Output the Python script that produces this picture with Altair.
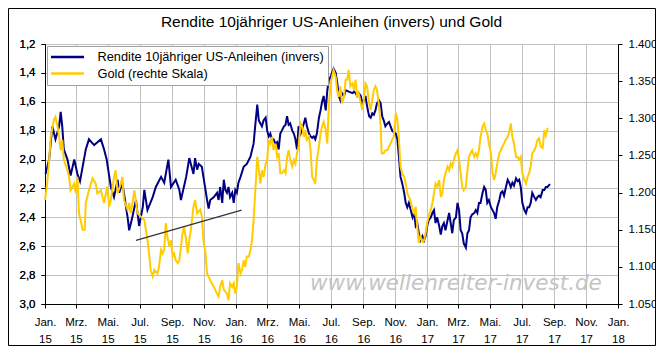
import altair as alt
import pandas as pd

START = pd.Timestamp("2015-01-01")
S_YIELD = "Rendite 10jähriger US-Anleihen (invers)"
S_GOLD = "Gold (rechte Skala)"
TITLE = "Rendite 10jähriger US-Anleihen (invers) und Gold"
WATERMARK = "www.wellenreiter-invest.de"

# days since 2015-01-01 / 10y yield (%)
yield_days = [1, 8, 14, 20, 27, 30, 33, 36, 43, 49, 56, 62, 67, 78, 84, 94, 107, 113, 118, 123,
              126, 132, 139, 142, 148, 155, 158, 161, 167, 174, 180, 187, 190, 196, 206, 212, 222, 228, 236, 241,
              250, 257, 260, 270, 276, 284, 287, 291, 294, 300, 303, 307, 310, 313, 316, 323, 329, 332, 335, 339,
              342, 345, 348, 351, 354, 358, 361, 364, 367, 370, 374, 380, 386, 393, 399, 402, 406, 409, 412, 415,
              418, 422, 425, 428, 431, 434, 437, 441, 444, 447, 450, 453, 457, 460, 463, 466, 469, 473, 476, 479,
              482, 485, 489, 495, 498, 501, 505, 508, 511, 514, 517, 520, 524, 527, 530, 533, 537, 540, 543, 546,
              549, 552, 556, 559, 562, 565, 568, 572, 575, 581, 588, 591, 594, 597, 600, 604, 607, 610, 613, 616,
              620, 623, 626, 629, 632, 635, 639, 642, 645, 648, 651, 655, 658, 661, 664, 667, 671, 674, 677, 680,
              683, 687, 690, 693, 696, 699, 703, 706, 709, 712, 715, 718, 722, 725, 728, 731, 734, 738, 741, 744,
              747, 750, 754, 757, 760, 763, 766, 770, 773, 776, 779, 782, 786, 789, 792, 795, 798, 801, 805, 808,
              811, 814, 817, 821, 824, 827, 830, 833, 837, 840, 843, 846, 849, 853, 856, 859, 862, 865, 869, 872,
              875, 878, 881, 885, 888, 891, 894, 897, 901, 904, 907, 910, 913, 917, 920, 923, 926, 929, 932, 936,
              939, 942, 945, 948, 952, 955, 958, 961, 966]
yield_vals = [2.10, 2.00, 1.77, 1.86, 1.77, 1.67, 1.77, 1.93, 2.00, 2.11, 2.00, 2.10, 2.15, 1.93, 1.86, 1.90, 1.86, 1.93, 2.00, 2.12,
              2.19, 2.26, 2.14, 2.23, 2.16, 2.33, 2.40, 2.49, 2.40, 2.28, 2.46, 2.33, 2.21, 2.35, 2.26, 2.19, 2.12, 2.16, 2.00, 2.19,
              2.14, 2.21, 2.28, 2.12, 1.99, 2.10, 1.99, 2.07, 2.03, 2.05, 2.12, 2.21, 2.28, 2.34, 2.28, 2.26, 2.23, 2.28, 2.19, 2.30,
              2.14, 2.21, 2.23, 2.19, 2.26, 2.23, 2.30, 2.21, 2.23, 2.16, 2.12, 2.05, 2.03, 1.98, 1.89, 1.77, 1.62, 1.73, 1.75, 1.77,
              1.73, 1.71, 1.80, 1.84, 1.82, 1.86, 1.86, 1.89, 1.88, 1.93, 1.82, 1.80, 1.77, 1.76, 1.70, 1.76, 1.75, 1.80, 1.82, 1.86,
              1.93, 1.77, 1.82, 1.75, 1.71, 1.77, 1.82, 1.84, 1.85, 1.84, 1.86, 1.82, 1.71, 1.66, 1.60, 1.56, 1.66, 1.52, 1.45, 1.43,
              1.40, 1.37, 1.40, 1.47, 1.56, 1.59, 1.54, 1.56, 1.52, 1.53, 1.54, 1.53, 1.54, 1.56, 1.54, 1.56, 1.61, 1.59, 1.56, 1.63,
              1.70, 1.71, 1.68, 1.69, 1.66, 1.61, 1.59, 1.61, 1.70, 1.73, 1.77, 1.75, 1.74, 1.77, 1.80, 1.81, 1.82, 1.86, 1.98, 2.12,
              2.16, 2.23, 2.30, 2.33, 2.30, 2.34, 2.40, 2.37, 2.46, 2.44, 2.51, 2.56, 2.53, 2.56, 2.53, 2.46, 2.42, 2.40, 2.37, 2.35,
              2.44, 2.40, 2.46, 2.52, 2.46, 2.44, 2.49, 2.42, 2.37, 2.44, 2.51, 2.42, 2.40, 2.30, 2.35, 2.49, 2.51, 2.58, 2.61, 2.51,
              2.49, 2.40, 2.38, 2.37, 2.35, 2.37, 2.30, 2.30, 2.23, 2.19, 2.21, 2.30, 2.28, 2.33, 2.35, 2.37, 2.41, 2.33, 2.28, 2.23,
              2.22, 2.25, 2.20, 2.14, 2.16, 2.19, 2.16, 2.18, 2.13, 2.15, 2.14, 2.19, 2.30, 2.35, 2.37, 2.33, 2.33, 2.30, 2.23, 2.26,
              2.28, 2.26, 2.25, 2.26, 2.21, 2.21, 2.19, 2.19, 2.17]

# days since 2015-01-01 / gold price (USD)
gold_days = [0, 4, 8, 11, 17, 20, 24, 27, 30, 33, 36, 43, 46, 49, 56, 59, 62, 65, 68, 72,
             76, 78, 84, 91, 97, 100, 107, 113, 119, 123, 126, 132, 135, 139, 145, 148, 151, 158, 161, 164,
             171, 177, 183, 190, 193, 196, 199, 202, 206, 209, 215, 218, 222, 225, 228, 231, 234, 238, 241, 244,
             247, 250, 254, 257, 260, 263, 266, 270, 273, 276, 279, 284, 287, 291, 297, 300, 303, 307, 310, 316,
             323, 329, 332, 335, 339, 342, 348, 351, 354, 358, 361, 364, 367, 370, 374, 377, 380, 383, 386, 390,
             393, 396, 399, 402, 406, 409, 412, 415, 418, 422, 425, 428, 431, 434, 437, 441, 444, 447, 450, 453,
             457, 460, 463, 466, 469, 473, 476, 479, 482, 485, 489, 492, 495, 498, 501, 505, 508, 511, 514, 517,
             520, 524, 527, 530, 533, 537, 540, 543, 546, 549, 552, 556, 559, 562, 565, 568, 572, 575, 578, 581,
             584, 588, 591, 594, 597, 600, 604, 607, 610, 613, 616, 620, 623, 626, 629, 632, 635, 639, 642, 644,
             648, 651, 655, 658, 661, 664, 667, 671, 674, 677, 680, 683, 687, 690, 693, 696, 699, 703, 706, 709,
             712, 715, 718, 722, 725, 728, 731, 734, 738, 741, 744, 747, 750, 754, 757, 760, 763, 766, 770, 773,
             776, 779, 782, 786, 789, 792, 795, 798, 801, 805, 808, 811, 814, 817, 821, 824, 827, 830, 833, 837,
             840, 843, 846, 849, 853, 856, 859, 862, 865, 869, 872, 875, 878, 881, 885, 888, 891, 894, 897, 901,
             904, 907, 910, 913, 917, 920, 923, 926, 929, 932, 936, 939, 942, 945, 948, 952, 955, 958, 961, 963]
gold_vals = [1190, 1212, 1244, 1275, 1298, 1302, 1289, 1275, 1257, 1271, 1244, 1230, 1221, 1203, 1212, 1199, 1221, 1172, 1163, 1150,
             1150, 1186, 1203, 1219, 1212, 1199, 1203, 1186, 1208, 1181, 1190, 1221, 1230, 1199, 1212, 1221, 1190, 1177, 1186, 1172,
             1203, 1172, 1168, 1163, 1150, 1136, 1118, 1096, 1087, 1096, 1091, 1100, 1123, 1118, 1123, 1159, 1141, 1127, 1136, 1114,
             1118, 1109, 1105, 1109, 1127, 1145, 1154, 1136, 1118, 1136, 1150, 1181, 1190, 1172, 1177, 1168, 1136, 1118, 1091, 1082,
             1073, 1064, 1060, 1073, 1082, 1069, 1064, 1055, 1078, 1073, 1078, 1064, 1073, 1105, 1091, 1096, 1109, 1100, 1114, 1114,
             1123, 1136, 1163, 1199, 1248, 1230, 1212, 1230, 1221, 1239, 1244, 1271, 1266, 1275, 1257, 1266, 1248, 1253, 1226, 1226,
             1230, 1226, 1248, 1257, 1244, 1235, 1244, 1239, 1253, 1262, 1293, 1289, 1275, 1284, 1271, 1275, 1257, 1221, 1217, 1212,
             1244, 1262, 1280, 1289, 1295, 1284, 1266, 1320, 1343, 1356, 1365, 1356, 1336, 1329, 1343, 1320, 1329, 1352, 1352, 1365,
             1343, 1347, 1338, 1352, 1329, 1334, 1320, 1311, 1325, 1347, 1343, 1320, 1311, 1325, 1338, 1343, 1338, 1316, 1289, 1253,
             1253, 1257, 1257, 1262, 1266, 1271, 1275, 1307, 1298, 1271, 1235, 1226, 1221, 1212, 1199, 1194, 1190, 1177, 1172, 1181,
             1154, 1132, 1141, 1134, 1136, 1145, 1159, 1168, 1177, 1186, 1199, 1212, 1208, 1217, 1194, 1199, 1217, 1226, 1235, 1230,
             1239, 1235, 1244, 1253, 1257, 1244, 1226, 1208, 1203, 1208, 1230, 1248, 1253, 1257, 1248, 1253, 1248, 1257, 1275, 1289,
             1293, 1284, 1280, 1266, 1253, 1226, 1217, 1226, 1239, 1253, 1257, 1262, 1266, 1271, 1275, 1282, 1293, 1275, 1266, 1248,
             1248, 1244, 1248, 1226, 1217, 1212, 1221, 1226, 1235, 1253, 1257, 1262, 1271, 1273, 1262, 1260, 1284, 1277, 1286, 1286]

# hand-drawn trend line (left scale)
trend_days = [174, 376]
trend_vals = [2.56, 2.35]

# watermark anchor (left scale)
watermark_days = [786]
watermark_vals = [2.86]

left_ticks = [1.2, 1.4, 1.6, 1.8, 2.0, 2.2, 2.4, 2.6, 2.8, 3.0]
right_ticks = [1050, 1100, 1150, 1200, 1250, 1300, 1350, 1400]
month_ticks = [alt.DateTime(year=2015 + i // 12, month=i % 12 + 1, date=1) for i in range(0, 37, 2)]


def frame(days, vals, series=None):
    df = pd.DataFrame({"date": START + pd.to_timedelta(days, unit="D"), "value": vals})
    if series is not None:
        df["series"] = series
    return df


yield_df = frame(yield_days, yield_vals, S_YIELD)
gold_df = frame(gold_days, gold_vals, S_GOLD)
trend_df = frame(trend_days, trend_vals)
wm_df = frame(watermark_days, watermark_vals)
wm_df["text"] = WATERMARK

FONT = "Liberation Sans"
LABEL_SIZE = 11.5

x_enc = alt.X(
    "date:T",
    scale=alt.Scale(domain=[alt.DateTime(year=2015, month=1, date=1),
                            alt.DateTime(year=2018, month=1, date=1)]),
    axis=alt.Axis(
        title=None, values=month_ticks, grid=True, gridColor="#c0c0c0", gridWidth=1,
        labelExpr="[['Jan.','Feb.','Mrz.','Apr.','Mai.','Jun.','Jul.','Aug.','Sep.','Okt.','Nov.','Dez.'][month(datum.value)], timeFormat(datum.value, '%y')]",
        labelOverlap=False, labelBound=False, labelFlush=False,
        labelFontSize=LABEL_SIZE, labelFont=FONT, labelColor="black", labelLineHeight=17,
        labelPadding=8, tickSize=4, tickColor="black", domainColor="black",
    ),
)

y_left = alt.Y(
    "value:Q",
    scale=alt.Scale(domain=[1.2, 3.0], reverse=True, nice=False, zero=False),
    axis=alt.Axis(
        title=None, orient="left", values=left_ticks, grid=True, gridColor="#c0c0c0", gridWidth=1,
        labelExpr="replace(format(datum.value, '.1f'), '.', ',')",
        labelFontSize=LABEL_SIZE, labelFont=FONT, labelColor="black", labelPadding=6,
        tickSize=4, tickColor="black", domainColor="black",
    ),
)

y_right = alt.Y(
    "value:Q",
    scale=alt.Scale(domain=[1050, 1400], nice=False, zero=False),
    axis=alt.Axis(
        title=None, orient="right", values=right_ticks, grid=False,
        labelExpr="replace(format(datum.value, ',.0f'), ',', '.')",
        labelFontSize=LABEL_SIZE, labelFont=FONT, labelColor="black", labelPadding=6,
        tickSize=4, tickColor="black", domainColor="black",
    ),
)

color_enc = alt.Color(
    "series:N",
    scale=alt.Scale(domain=[S_YIELD, S_GOLD], range=["#000080", "#FFCC00"]),
    legend=alt.Legend(
        title=None, orient="none", legendX=2, legendY=2, direction="vertical",
        symbolType="M-3,0H3", symbolSize=121, symbolStrokeWidth=2.5, symbolOffset=9.5,
        labelFontSize=12.8, labelFont=FONT, labelColor="black", labelLimit=400, labelOffset=23,
        fillColor="white", strokeColor="#a0a0a0", padding=4, rowPadding=2.5,
    ),
)

border = alt.Chart(pd.DataFrame({"k": [0]})).mark_rect(
    fill="transparent", stroke="black", strokeWidth=1
).encode(x=alt.value(-36.5), x2=alt.value(610.5), y=alt.value(-35.5), y2=alt.value(301.5))

watermark = alt.Chart(wm_df).mark_text(
    font="DejaVu Sans", fontStyle="italic", fontSize=21.5, color="#c4c4c4",
    align="center", baseline="middle",
).encode(x=x_enc, y=y_left, text="text:N")

yield_line = alt.Chart(yield_df).mark_line(strokeWidth=2).encode(x=x_enc, y=y_left, color=color_enc)

trend_line = alt.Chart(trend_df).mark_line(strokeWidth=1.2, color="#333333").encode(x=x_enc, y=y_left)

gold_line = alt.Chart(gold_df).mark_line(strokeWidth=2).encode(x=x_enc, y=y_right, color=color_enc)

left_layer = alt.layer(watermark, yield_line)

chart = (
    alt.layer(left_layer, gold_line, trend_line, border)
    .resolve_scale(y="independent")
    .properties(
        width=573,
        height=260,
        padding={"left": 37, "top": 36, "right": 38, "bottom": 42},
        autosize=alt.AutoSizeParams(type="none"),
        title=alt.TitleParams(
            TITLE, fontSize=15.5, font=FONT, fontWeight="normal", color="black",
            anchor="middle", frame="group", offset=7, dy=29,
        ),
    )
    .configure(background="white")
    .configure_view(stroke="black", strokeWidth=1)
)

chart.save("out.html", embed_options={"renderer": "svg", "actions": False})
